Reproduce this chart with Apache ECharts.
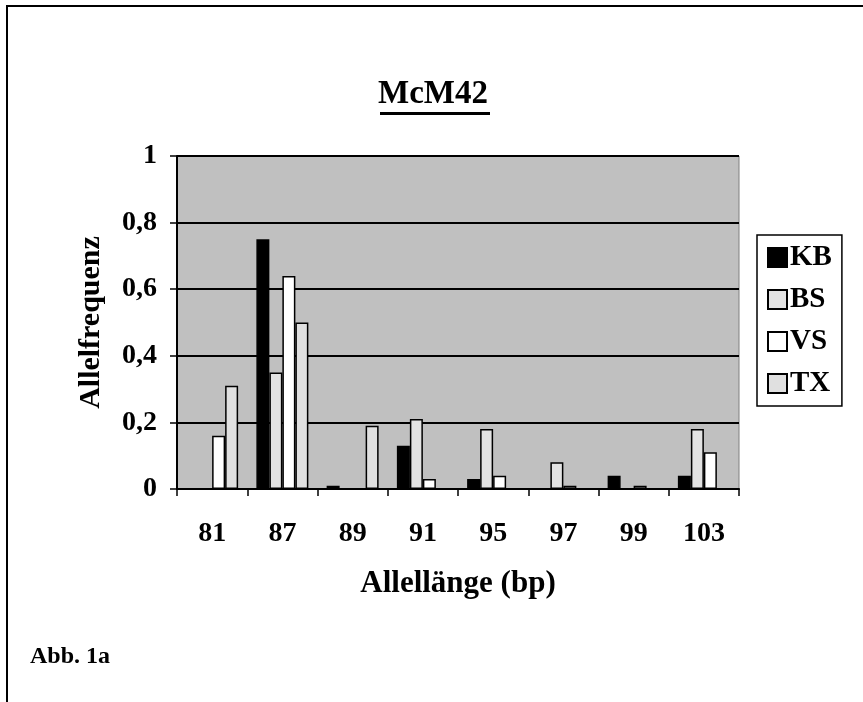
<!DOCTYPE html>
<html>
<head>
<meta charset="utf-8">
<script src="https://cdn.jsdelivr.net/npm/echarts@6/dist/echarts.min.js"></script>
<style>
  html, body { margin: 0; padding: 0; background: #fff; }
  #chart { width: 863px; height: 702px; }
</style>
</head>
<body>
<div id="chart"></div>
<script>
    // Allellänge (bp)
    var categories = ['81', '87', '89', '91', '95', '97', '99', '103'];

    // Allelfrequenz je Population
    var kb = [0, 0.75, 0.01, 0.13, 0.03, 0, 0.04, 0.04];
    var bs = [0, 0.35, 0, 0.21, 0.18, 0.08, 0, 0.18];
    var vs = [0.16, 0.64, 0, 0.03, 0.04, 0.01, 0.01, 0.11];
    var tx = [0.31, 0.50, 0.19, 0, 0, 0, 0, 0];

    var serif = '"Liberation Serif", "Times New Roman", serif';

    function bar(name, data, color) {
        return {
            name: name,
            type: 'bar',
            data: data,
            barGap: '0%',
            barCategoryGap: '26%',
            itemStyle: {
                color: color,
                borderColor: '#000',
                borderWidth: 1.5
            }
        };
    }

    var chart = echarts.init(document.getElementById('chart'), null, { renderer: 'canvas' });

    chart.setOption({
        backgroundColor: '#fff',
        animation: false,
        title: {
            text: 'McM42',
            left: 378,
            top: 78,
            padding: 0,
            textStyle: {
                fontFamily: serif,
                fontWeight: 'bold',
                fontSize: 33,
                color: '#000'
            }
        },
        grid: {
            left: 177,
            right: 124,
            top: 156,
            bottom: 213,
            show: true,
            backgroundColor: '#c0c0c0',
            borderColor: '#808080',
            borderWidth: 1
        },
        legend: {
            orient: 'vertical',
            left: 757,
            top: 235,
            padding: [8, 10, 8, 10],
            itemGap: 13,
            itemWidth: 19,
            itemHeight: 19,
            borderColor: '#000',
            borderWidth: 1.5,
            icon: 'rect',
            textStyle: {
                fontFamily: serif,
                fontWeight: 'bold',
                fontSize: 29,
                color: '#000',
                padding: [0, 0, 0, -2]
            },
            data: ['KB', 'BS', 'VS', 'TX']
        },
        xAxis: {
            type: 'category',
            data: categories,
            name: 'Allellänge (bp)',
            nameLocation: 'middle',
            nameGap: 79,
            nameTextStyle: {
                fontFamily: serif,
                fontWeight: 'bold',
                fontSize: 31,
                color: '#000'
            },
            axisLine: { lineStyle: { color: '#000', width: 2 } },
            axisTick: { show: true, length: 7, lineStyle: { color: '#000', width: 1.5 } },
            axisLabel: {
                margin: 31,
                fontFamily: serif,
                fontWeight: 'bold',
                fontSize: 28,
                color: '#000'
            }
        },
        yAxis: {
            type: 'value',
            min: 0,
            max: 1,
            interval: 0.2,
            name: 'Allelfrequenz',
            nameLocation: 'middle',
            nameRotate: 90,
            nameGap: 71,
            nameTextStyle: {
                fontFamily: serif,
                fontWeight: 'bold',
                fontSize: 30,
                color: '#000'
            },
            axisLine: { show: true, lineStyle: { color: '#000', width: 2 } },
            axisTick: { show: true, inside: false, length: 7, lineStyle: { color: '#000', width: 1.5 } },
            axisLabel: {
                margin: 20,
                fontFamily: serif,
                fontWeight: 'bold',
                fontSize: 28,
                color: '#000',
                formatter: function(v) {
                    return String(Math.round(v * 10) / 10).replace('.', ',');
                }
            },
            splitLine: { show: true, lineStyle: { color: '#000', width: 2 } }
        },
        series: [
            bar('KB', kb, '#000000'),
            bar('BS', bs, '#e3e3e3'),
            bar('VS', vs, '#ffffff'),
            bar('TX', tx, '#e0e0e0')
        ],
        graphic: [
            // Rahmen oben und links
            { type: 'line', shape: { x1: 6, y1: 6, x2: 863, y2: 6 }, style: { stroke: '#000', lineWidth: 2 } },
            { type: 'line', shape: { x1: 7, y1: 6, x2: 7, y2: 702 }, style: { stroke: '#000', lineWidth: 2 } },
            // Unterstreichung Titel
            { type: 'rect', shape: { x: 380, y: 112, width: 110, height: 3 }, style: { fill: '#000' } },
            {
                type: 'text',
                left: 30,
                top: 645,
                style: {
                    text: 'Abb. 1a',
                    fill: '#000',
                    font: 'bold 24px ' + serif
                }
            }
        ]
    });
</script>
</body>
</html>
